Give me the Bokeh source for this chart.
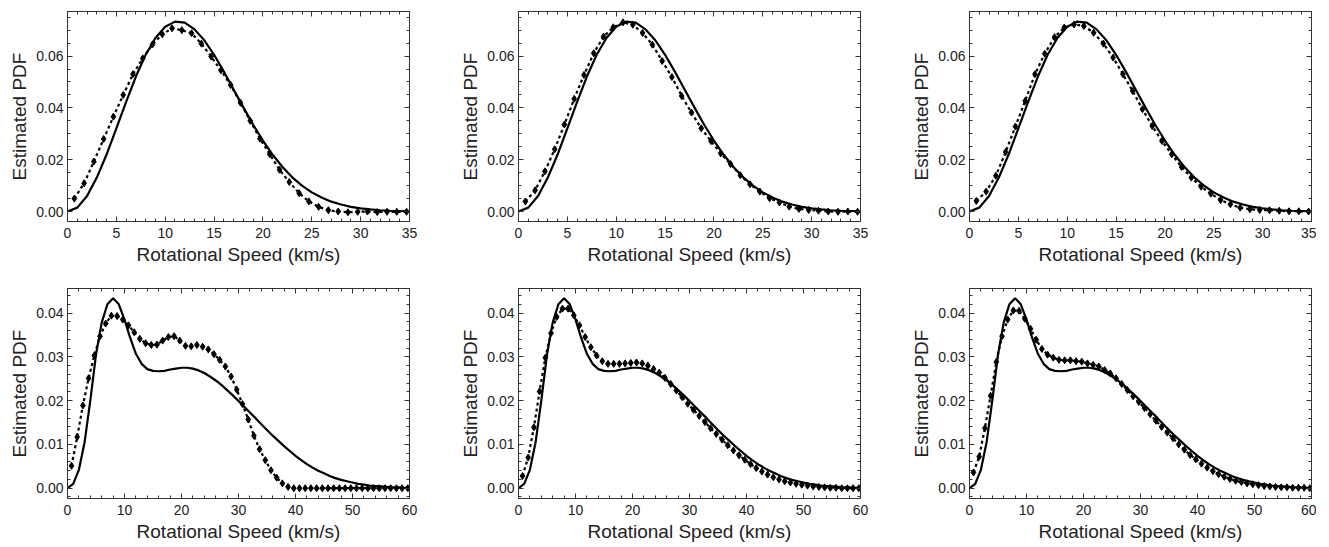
from bokeh.plotting import figure
from bokeh.layouts import row, column
from bokeh.models import FixedTicker, LinearAxis, Range1d, PrintfTickFormatter
from bokeh.embed import file_html
from bokeh.resources import INLINE

# ---------------- data ----------------
# x grid of the solid (true) curves
x_solid_top = list(range(0, 36))
x_solid_bot = list(range(0, 61))
# x positions of the estimated (dotted) points
x_est_top = [k + 0.7 for k in range(35)]
x_est_bot = [k + 0.7 for k in range(60)]

solid_top = [0.0, 0.0015, 0.0060, 0.0131, 0.0220, 0.0321, 0.0423, 0.0521, 0.0605, 0.0670,
             0.0713, 0.0733, 0.0729, 0.0703, 0.0661, 0.0605, 0.0540, 0.0471, 0.0402, 0.0335,
             0.0274, 0.0219, 0.0172, 0.0132, 0.0100, 0.0074, 0.0054, 0.0038, 0.0027, 0.0018,
             0.0012, 0.0008, 0.0005, 0.0003, 0.0002, 0.0001]

est_top_left = [0.0050, 0.0109, 0.0193, 0.0280, 0.0366, 0.0450, 0.0530, 0.0591, 0.0645, 0.0684,
                0.0707, 0.0700, 0.0688, 0.0648, 0.0598, 0.0545, 0.0488, 0.0420, 0.0350, 0.0281,
                0.0221, 0.0161, 0.0114, 0.0071, 0.0039, 0.0018, 0.0005, 0.0000, -0.0003, -0.0001,
                0.0000, -0.0002, -0.0001, -0.0001, -0.0001]

est_top_mid = [0.0039, 0.0082, 0.0155, 0.0240, 0.0336, 0.0435, 0.0527, 0.0611, 0.0675, 0.0711,
               0.0730, 0.0721, 0.0689, 0.0644, 0.0581, 0.0519, 0.0446, 0.0382, 0.0321, 0.0272,
               0.0224, 0.0183, 0.0140, 0.0105, 0.0077, 0.0051, 0.0035, 0.0019, 0.0010, 0.0006,
               0.0003, 0.0000, -0.0001, 0.0000, -0.0001]

est_top_right = [0.0041, 0.0077, 0.0138, 0.0230, 0.0328, 0.0427, 0.0530, 0.0609, 0.0673, 0.0710,
                 0.0722, 0.0716, 0.0690, 0.0648, 0.0594, 0.0530, 0.0465, 0.0395, 0.0330, 0.0272,
                 0.0221, 0.0172, 0.0131, 0.0096, 0.0069, 0.0044, 0.0028, 0.0015, 0.0009, 0.0006,
                 0.0005, 0.0003, 0.0001, 0.0001, 0.0000]

solid_bot = [0.0, 0.0010, 0.0042, 0.0105, 0.0200, 0.0305, 0.0378, 0.0420, 0.0434, 0.0420,
             0.0385, 0.0343, 0.0307, 0.0284, 0.0272, 0.0268, 0.0267, 0.0268, 0.0271, 0.0273,
             0.0275, 0.0275, 0.0273, 0.0269, 0.0263, 0.0255, 0.0246, 0.0236, 0.0224, 0.0212,
             0.0199, 0.0186, 0.0173, 0.0160, 0.0146, 0.0133, 0.0120, 0.0108, 0.0096, 0.0085,
             0.0074, 0.0064, 0.0055, 0.0047, 0.0040, 0.0034, 0.0028, 0.0023, 0.0019, 0.0016,
             0.0013, 0.0010, 0.0008, 0.0006, 0.0005, 0.0004, 0.0003, 0.0002, 0.0002, 0.0001,
             0.0001]

est_bot_left = [0.0051, 0.0117, 0.0189, 0.0251, 0.0303, 0.0347, 0.0376, 0.0394, 0.0393, 0.0385,
                0.0372, 0.0356, 0.0341, 0.0331, 0.0327, 0.0328, 0.0337, 0.0345, 0.0347, 0.0337,
                0.0325, 0.0324, 0.0327, 0.0323, 0.0317, 0.0306, 0.0293, 0.0278, 0.0255, 0.0225,
                0.0192, 0.0157, 0.0120, 0.0089, 0.0064, 0.0041, 0.0024, 0.0011, 0.0003, 0.0000,
                0.0000, 0.0000, 0.0000, 0.0000, 0.0000, 0.0000, 0.0000, 0.0000, 0.0000, 0.0000,
                0.0000, 0.0000, 0.0000, 0.0000, 0.0000, 0.0000, 0.0000, 0.0000, 0.0000, 0.0000]

est_bot_mid = [0.0028, 0.0070, 0.0139, 0.0221, 0.0298, 0.0354, 0.0391, 0.0410, 0.0410, 0.0395,
               0.0372, 0.0345, 0.0322, 0.0303, 0.0290, 0.0284, 0.0284, 0.0284, 0.0285, 0.0286,
               0.0287, 0.0285, 0.0280, 0.0272, 0.0264, 0.0252, 0.0238, 0.0223, 0.0208, 0.0193,
               0.0179, 0.0165, 0.0151, 0.0137, 0.0124, 0.0111, 0.0098, 0.0086, 0.0075, 0.0065,
               0.0055, 0.0046, 0.0038, 0.0031, 0.0025, 0.0020, 0.0016, 0.0013, 0.0010, 0.0008,
               0.0006, 0.0004, 0.0003, 0.0002, 0.0001, 0.0001, 0.0000, 0.0000, 0.0000, 0.0000]

est_bot_right = [0.0036, 0.0072, 0.0137, 0.0211, 0.0288, 0.0347, 0.0385, 0.0406, 0.0405, 0.0387,
                 0.0364, 0.0339, 0.0318, 0.0305, 0.0298, 0.0293, 0.0292, 0.0292, 0.0290, 0.0289,
                 0.0285, 0.0282, 0.0278, 0.0270, 0.0262, 0.0251, 0.0238, 0.0224, 0.0210, 0.0197,
                 0.0183, 0.0169, 0.0154, 0.0140, 0.0127, 0.0114, 0.0100, 0.0088, 0.0076, 0.0066,
                 0.0056, 0.0047, 0.0039, 0.0032, 0.0026, 0.0021, 0.0017, 0.0014, 0.0011, 0.0009,
                 0.0007, 0.0005, 0.0004, 0.0003, 0.0002, 0.0002, 0.0001, 0.0001, 0.0001, 0.0000]

x_label = "Rotational Speed (km/s)"
y_label = "Estimated PDF"

top_x_ticks = [0, 5, 10, 15, 20, 25, 30, 35]
top_y_ticks = [0.00, 0.02, 0.04, 0.06]
bot_x_ticks = [0, 10, 20, 30, 40, 50, 60]
bot_y_ticks = [0.00, 0.01, 0.02, 0.03, 0.04]

# ---------------- styling ----------------
FONT = "Liberation Sans"
FRAME = "#333333"
TEXT = "#222222"


def frange(a, b, step):
    out = []
    v = a
    while v <= b + 1e-12:
        out.append(round(v, 6))
        v += step
    return out


def style_axis(ax, show_labels):
    ax.major_tick_in = 5
    ax.major_tick_out = 0
    ax.minor_tick_in = 3
    ax.minor_tick_out = 0
    ax.axis_line_color = FRAME
    ax.major_tick_line_color = FRAME
    ax.minor_tick_line_color = FRAME
    ax.major_label_text_font = FONT
    ax.axis_label_text_font = FONT
    ax.axis_label_text_font_style = "normal"
    ax.axis_label_text_color = TEXT
    if show_labels:
        ax.major_label_text_color = TEXT
        ax.major_label_text_font_size = "14px"
        ax.axis_label_text_font_size = "19px"
    else:
        ax.major_label_text_color = None
        ax.major_label_text_font_size = "1px"
        ax.major_label_standoff = 0


def panel(xs, ys, xd, yd, xmax, yr, xt, xminor, yt, yminor, border_left, border_right,
          border_top, border_bottom):
    p = figure(frame_width=342, frame_height=210,
               x_range=Range1d(0, xmax), y_range=Range1d(*yr),
               output_backend="svg", toolbar_location=None,
               min_border_left=border_left, min_border_right=border_right,
               min_border_top=border_top, min_border_bottom=border_bottom,
               background_fill_color="white", border_fill_color="white")
    p.grid.visible = False
    p.outline_line_color = FRAME
    p.outline_line_width = 1

    p.xaxis.ticker = FixedTicker(ticks=xt, minor_ticks=xminor)
    p.yaxis.ticker = FixedTicker(ticks=yt, minor_ticks=yminor)
    p.yaxis.formatter = PrintfTickFormatter(format="%.2f")
    p.xaxis.axis_label = x_label
    p.yaxis.axis_label = y_label
    for ax in p.xaxis + p.yaxis:
        style_axis(ax, True)
    p.xaxis.major_label_standoff = 6
    p.xaxis.axis_label_standoff = 3
    p.yaxis.major_label_standoff = 4
    p.yaxis.axis_label_standoff = 3

    top_ax = LinearAxis(ticker=FixedTicker(ticks=xt, minor_ticks=xminor))
    right_ax = LinearAxis(ticker=FixedTicker(ticks=yt, minor_ticks=yminor))
    style_axis(top_ax, False)
    style_axis(right_ax, False)
    p.add_layout(top_ax, "above")
    p.add_layout(right_ax, "right")

    p.line(xs, ys, line_color="black", line_width=2.2)
    p.line(xd, yd, line_color="black", line_width=2.2, line_dash="3 3")
    p.scatter(xd, yd, marker="diamond", size=7, fill_color="black", line_color="black")
    return p


top_yr = (-0.00385, 0.0772)
bot_yr = (-0.00235, 0.0456)
top_xminor = frange(0, 35, 1)
top_yminor = frange(-0.005, 0.08, 0.005)
bot_xminor = frange(0, 60, 2)
bot_yminor = frange(-0.004, 0.046, 0.002)

lefts = [67, 64, 64]
rights = [45, 45, 5]
top_series = [est_top_left, est_top_mid, est_top_right]
bot_series = [est_bot_left, est_bot_mid, est_bot_right]

top_row = [panel(x_solid_top, solid_top, x_est_top, s, 35, top_yr, top_x_ticks, top_xminor,
                 top_y_ticks, top_yminor, l, r, 11, 63)
           for s, l, r in zip(top_series, lefts, rights)]
bot_row = [panel(x_solid_bot, solid_bot, x_est_bot, s, 60, bot_yr, bot_x_ticks, bot_xminor,
                 bot_y_ticks, bot_yminor, l, r, 4, 46)
           for s, l, r in zip(bot_series, lefts, rights)]

layout = column(row(*top_row), row(*bot_row))

with open("out.html", "w") as f:
    f.write(file_html(layout, INLINE))
